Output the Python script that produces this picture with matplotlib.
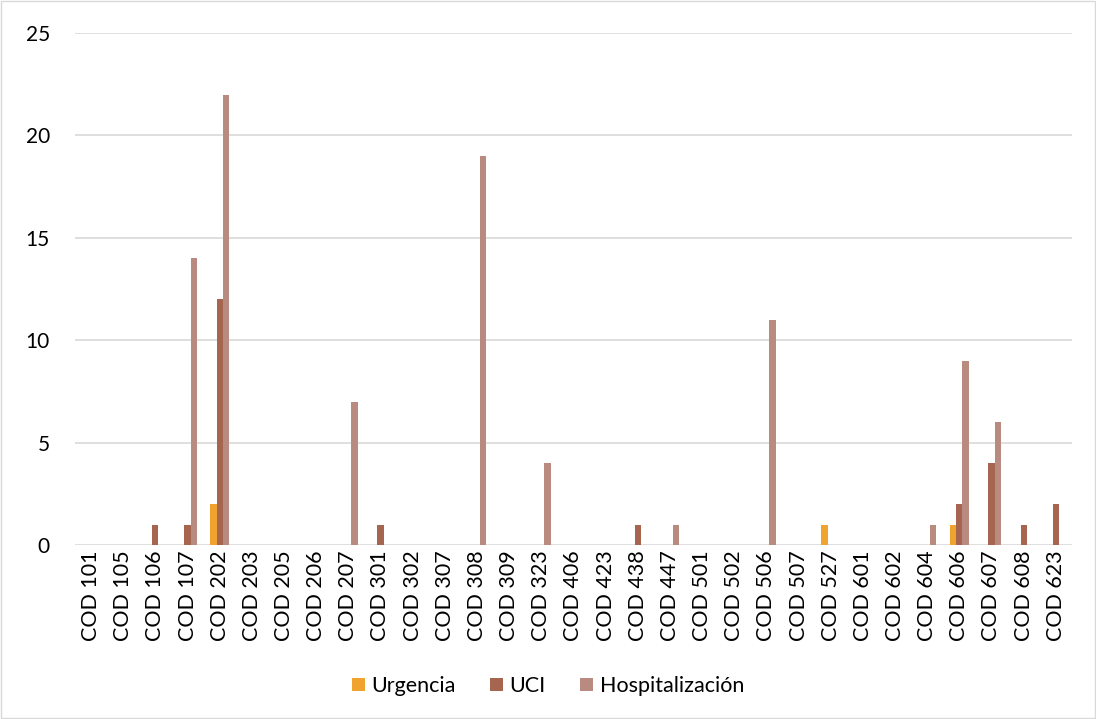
import matplotlib.pyplot as plt
import numpy as np
from matplotlib.patches import Rectangle

codigos = ["101", "105", "106", "107", "202", "203", "205", "206", "207", "301",
           "302", "307", "308", "309", "323", "406", "423", "438", "447", "501",
           "502", "506", "507", "527", "601", "602", "604", "606", "607", "608", "623"]
etiquetas = ["COD " + c for c in codigos]

urgencia = [0, 0, 0, 0, 2, 0, 0, 0, 0, 0, 0, 0, 0, 0, 0, 0, 0, 0, 0, 0,
            0, 0, 0, 1, 0, 0, 0, 1, 0, 0, 0]
uci = [0, 0, 1, 1, 12, 0, 0, 0, 0, 1, 0, 0, 0, 0, 0, 0, 0, 1, 0, 0,
       0, 0, 0, 0, 0, 0, 0, 2, 4, 1, 2]
hospitalizacion = [0, 0, 0, 14, 22, 0, 0, 0, 7, 0, 0, 0, 19, 0, 4, 0, 0, 0, 1, 0,
                   0, 11, 0, 0, 0, 0, 1, 9, 6, 0, 0]

plt.rcParams['font.family'] = ['Lato', 'DejaVu Sans']

fig = plt.figure(figsize=(10.96, 7.19), dpi=100)
ax = fig.add_axes([0.0684, 0.242, 0.9096, 0.712])

x = np.arange(len(codigos))
w = 1 / 5.19
ax.bar(x - w, urgencia, w, color="#F0A32F", label="Urgencia", zorder=3)
ax.bar(x, uci, w, color="#A6654F", label="UCI", zorder=3)
ax.bar(x + w, hospitalizacion, w, color="#B98B80", label="Hospitalización", zorder=3)

ax.set_xlim(-0.5, len(codigos) - 0.5)
ax.set_ylim(0, 25)
ax.set_yticks(range(0, 26, 5))
ax.set_xticks(x)
ax.set_xticklabels(etiquetas, rotation=90, fontsize=15.5)
ax.tick_params(axis="y", labelsize=15, length=0, pad=18)
ax.tick_params(axis="x", length=0, pad=4)
ax.grid(axis="y", color="#D9D9D9", linewidth=1.2, zorder=0)
for s in ax.spines.values():
    s.set_visible(False)

fig.legend(loc="lower center", bbox_to_anchor=(0.5, 0.005), ncol=3, frameon=False,
           fontsize=15.5, handlelength=0.6, handleheight=0.6, handletextpad=0.3,
           columnspacing=1.6)

fig.patches.append(Rectangle((0.001, 0.001), 0.998, 0.998, transform=fig.transFigure,
                             fill=False, edgecolor="#D9D9D9", linewidth=1))

fig.savefig("out.png", dpi=100)
